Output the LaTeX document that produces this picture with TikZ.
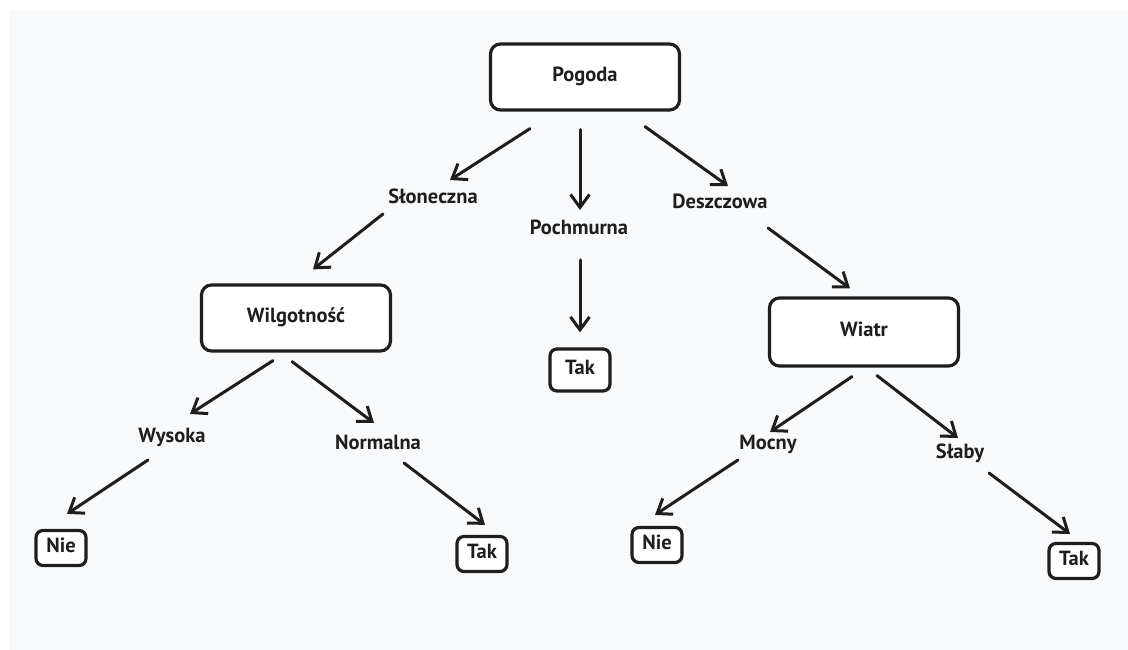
\documentclass[tikz,border=0pt]{standalone}
\usepackage{fontspec}
\setmainfont{PT Sans}
\usetikzlibrary{arrows.meta}
\definecolor{ink}{HTML}{1E1E1E}
\definecolor{paper}{HTML}{F8F9FA}
\begin{document}
\begin{tikzpicture}[x=1pt,y=1pt,
        box/.style={draw=ink,fill=white,line width=3.2pt,rounded corners=10pt,
            minimum width=189pt,minimum height=66pt,text=ink,
            font=\bfseries\fontsize{20.5}{24}\selectfont,text height=14pt,text depth=4.5pt},
        leaf/.style={box,rounded corners=7pt,minimum width=50pt,minimum height=35pt,inner sep=2pt},
        lab/.style={text=ink,font=\bfseries\fontsize{20.5}{24}\selectfont,text height=14pt,text depth=4.5pt},
        arr/.style={->,draw=ink,line width=3pt,line cap=round},
        >={Straight Barb[length=13pt,width=19pt]}]
        % background
        \fill[white] (0,0) rectangle (1128,650);
        \fill[paper] (9,0) rectangle (1128,640);
        % tree
        \node[box] (pogoda) at (585,573) {Pogoda};
        \node[lab] (slon) at (433,451) {Słoneczna};
        \node[lab] (pochm) at (579,420) {Pochmurna};
        \node[lab] (deszcz) at (720,446) {Deszczowa};
        \node[box] (wilg) at (296,332) {Wilgotność};
        \node[leaf,minimum width=60pt,minimum height=42pt] (tak1) at (580,280) {Tak};
        \node[box,minimum height=68pt] (wiatr) at (864,318) {Wiatr};
        \node[lab] (wysoka) at (172,212) {Wysoka};
        \node[lab] (normalna) at (378,205) {Normalna};
        \node[lab] (mocny) at (768,205) {Mocny};
        \node[lab] (slaby) at (960,196) {Słaby};
        \node[leaf] (nie1) at (61,102) {Nie};
        \node[leaf] (tak2) at (482,96) {Tak};
        \node[leaf] (nie2) at (657,105) {Nie};
        \node[leaf] (tak3) at (1074,89) {Tak};
        % arrows
        \draw[arr] ([shift={(-55,-17)}]pogoda.south) -- ([shift={(17,19)}]slon.center);
        \draw[arr] ([shift={(-5,-18)}]pogoda.south) -- ([shift={(1,20)}]pochm.center);
        \draw[arr] ([shift={(60,-15)}]pogoda.south) -- ([shift={(8,18)}]deszcz.center);
        \draw[arr] ([shift={(-50,-15)}]slon.center) -- ([shift={(17,14)}]wilg.north);
        \draw[arr] ([shift={(1,-30)}]pochm.center) -- ([shift={(0,15)}]tak1.north);
        \draw[arr] ([shift={(48,-24)}]deszcz.center) -- ([shift={(-14,8)}]wiatr.north);
        \draw[arr] ([shift={(-23,-8)}]wilg.south) -- ([shift={(18,24)}]wysoka.center);
        \draw[arr] ([shift={(-4,-9)}]wilg.south) -- ([shift={(-4,22)}]normalna.center);
        \draw[arr] ([shift={(-24,-22)}]wysoka.center) -- ([shift={(6,15)}]nie1.north);
        \draw[arr] ([shift={(26,-18)}]normalna.center) -- ([shift={(3,10)}]tak2.north);
        \draw[arr] ([shift={(-12,-9)}]wiatr.south) -- ([shift={(2,13)}]mocny.center);
        \draw[arr] ([shift={(13,-8)}]wiatr.south) -- ([shift={(-2,16)}]slaby.center);
        \draw[arr] ([shift={(-30,-15)}]mocny.center) -- ([shift={(-2,11)}]nie2.north);
        \draw[arr] ([shift={(29,-19)}]slaby.center) -- ([shift={(-4,8)}]tak3.north);
\end{tikzpicture}
\end{document}
